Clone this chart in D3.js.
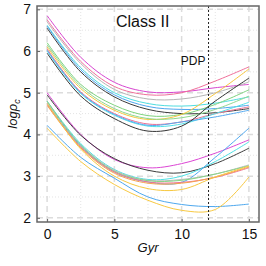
<!DOCTYPE html>
<html>
<head>
<meta charset="utf-8">
<script src="https://cdn.jsdelivr.net/npm/d3@7"></script>
<style>
  body { margin: 0; background: #fff; }
  text { font-family: "Liberation Sans", Arial, sans-serif; fill: #111; }
</style>
</head>
<body>
<script>
const gyr = [0, 2.5, 5, 7.5, 10, 12.5, 15];

const xTicks = [0, 5, 10, 15];
const yTicks = [2, 3, 4, 5, 6, 7];
const pdpAge = 12;

// top bundle
const magentaA = [6.85, 5.85, 5.25, 5.02, 5.02, 5.12, 5.2];
const pinkA    = [6.75, 5.75, 5.15, 4.95, 5.0, 5.28, 5.62];
const grayA    = [6.7, 5.7, 5.08, 4.85, 4.85, 5.0, 5.26];
const cyanA    = [6.62, 5.6, 5.0, 4.74, 4.68, 4.75, 4.9];
const blueA    = [6.6, 5.55, 4.95, 4.67, 4.6, 4.62, 4.7];
const blackA   = [6.55, 5.5, 4.9, 4.6, 4.5, 4.52, 4.62];
// second bundle
const greenB   = [6.2, 5.2, 4.7, 4.45, 4.48, 4.72, 5.07];
const yellowB  = [6.1, 5.1, 4.58, 4.36, 4.48, 4.98, 5.57];
const green2B  = [6.15, 5.15, 4.62, 4.38, 4.4, 4.6, 4.92];
const pinkB    = [6.05, 5.02, 4.5, 4.25, 4.3, 4.5, 4.66];
const cyanB    = [6.0, 4.98, 4.46, 4.2, 4.25, 4.5, 4.77];
const blueB    = [6.02, 5.0, 4.48, 4.22, 4.3, 4.42, 4.58];
const blackB   = [5.95, 4.92, 4.38, 4.08, 4.2, 4.8, 5.35];
// third bundle
const magentaC = [5.0, 4.0, 3.4, 3.2, 3.3, 3.55, 3.87];
const blackC   = [4.95, 3.98, 3.42, 3.14, 3.08, 3.3, 3.67];
const cyanD    = [4.8, 3.78, 3.16, 2.92, 3.0, 3.35, 3.82];
const blueD    = [4.75, 3.72, 3.1, 2.86, 2.85, 3.45, 4.15];
const grayD    = [4.78, 3.75, 3.14, 2.9, 2.92, 3.05, 3.27];
const greenD   = [4.8, 3.74, 3.12, 2.89, 2.9, 3.05, 3.25];
const pinkD    = [4.72, 3.7, 3.1, 2.86, 2.85, 2.97, 3.2];
const orangeD  = [4.7, 3.68, 3.07, 2.83, 2.83, 2.98, 3.22];
const yellowD  = [4.75, 3.65, 3.0, 2.7, 2.68, 2.98, 3.24];
// lowest pair
const blueE    = [4.22, 3.45, 2.95, 2.5, 2.32, 2.27, 2.33];
const yellowE  = [4.15, 3.35, 2.8, 2.42, 2.18, 2.2, 2.98];

const tracks = [
  [magentaA, "#d845d0"], [pinkA, "#f0709a"], [grayA, "#b5b5b5"], [cyanA, "#4fdde0"],
  [blueA, "#4ea6ee"], [blackA, "#3a3a3a"],
  [greenB, "#7ed37e"], [yellowB, "#f7c63e"], [green2B, "#8fd88f"], [pinkB, "#ef6f92"],
  [cyanB, "#52e0e6"], [blueB, "#55aaf0"], [blackB, "#333333"],
  [magentaC, "#dc46d4"], [blackC, "#3c3c3c"], [cyanD, "#50e0e4"], [blueD, "#4ea8f0"],
  [grayD, "#bbbbbb"], [greenD, "#86d686"], [pinkD, "#f07494"], [orangeD, "#f5a24e"],
  [yellowD, "#f7c840"], [blueE, "#4ea8ee"], [yellowE, "#f8c942"]
];

const W = 266, H = 266;
const m = { left: 37, right: 259, top: 6, bottom: 222 };

const svg = d3.select("body").append("svg")
  .attr("width", W)
  .attr("height", H);

const x = d3.scaleLinear().domain([-0.75, 15.75]).range([m.left, m.right]);
const y = d3.scaleLinear().domain([1.9, 7.08]).range([m.bottom, m.top]);

// minor grid (dotted)
const minorX = [2.5, 7.5, 12.5];
const minorY = [2.5, 3.5, 4.5, 5.5, 6.5];
svg.append("g").selectAll("line").data(minorX).enter().append("line")
  .attr("x1", d => x(d)).attr("x2", d => x(d))
  .attr("y1", m.top).attr("y2", m.bottom)
  .attr("stroke", "#e4e4e4").attr("stroke-dasharray", "1,2");
svg.append("g").selectAll("line").data(minorY).enter().append("line")
  .attr("y1", d => y(d)).attr("y2", d => y(d))
  .attr("x1", m.left).attr("x2", m.right)
  .attr("stroke", "#e4e4e4").attr("stroke-dasharray", "1,2");

// major grid (dashed)
svg.append("g").selectAll("line").data(xTicks).enter().append("line")
  .attr("x1", d => x(d)).attr("x2", d => x(d))
  .attr("y1", m.top).attr("y2", m.bottom)
  .attr("stroke", "#dcdcdc").attr("stroke-width", 1.5).attr("stroke-dasharray", "6,4");
svg.append("g").selectAll("line").data(yTicks).enter().append("line")
  .attr("y1", d => y(d)).attr("y2", d => y(d))
  .attr("x1", m.left).attr("x2", m.right)
  .attr("stroke", "#dcdcdc").attr("stroke-width", 1.5).attr("stroke-dasharray", "6,4");

// tracks
const line = d3.line()
  .x((d, i) => x(gyr[i]))
  .y(d => y(d))
  .curve(d3.curveCatmullRom.alpha(0.5));

svg.append("g").selectAll("path").data(tracks).enter().append("path")
  .attr("d", d => line(d[0]))
  .attr("fill", "none")
  .attr("stroke", d => d[1])
  .attr("stroke-width", 1);

// PDP marker
svg.append("line")
  .attr("x1", x(pdpAge)).attr("x2", x(pdpAge))
  .attr("y1", m.top).attr("y2", m.bottom)
  .attr("stroke", "#222").attr("stroke-dasharray", "2,2");
svg.append("text")
  .attr("x", x(pdpAge) - 3).attr("y", 65)
  .attr("text-anchor", "end")
  .style("font-size", "12px")
  .text("PDP");

// frame
svg.append("rect")
  .attr("x", m.left).attr("y", m.top)
  .attr("width", m.right - m.left).attr("height", m.bottom - m.top)
  .attr("fill", "none").attr("stroke", "#666").attr("stroke-width", 1.5);

// axes (inward ticks)
svg.append("g")
  .attr("transform", `translate(0,${m.bottom})`)
  .call(d3.axisBottom(x).tickValues(xTicks).tickFormat(d3.format("d"))
    .tickSizeInner(-3).tickSizeOuter(0).tickPadding(7))
  .call(g => g.select(".domain").remove())
  .call(g => g.selectAll("line").attr("stroke", "#666"))
  .call(g => g.selectAll("text").style("font-size", "14px")
    .style("font-family", "Liberation Sans, Arial, sans-serif").attr("fill", "#111"));

svg.append("g")
  .attr("transform", `translate(${m.left},0)`)
  .call(d3.axisLeft(y).tickValues(yTicks).tickFormat(d3.format("d"))
    .tickSizeInner(-3).tickSizeOuter(0).tickPadding(6))
  .call(g => g.select(".domain").remove())
  .call(g => g.selectAll("line").attr("stroke", "#666"))
  .call(g => g.selectAll("text").style("font-size", "14px")
    .style("font-family", "Liberation Sans, Arial, sans-serif").attr("fill", "#111"));

// title + axis labels
svg.append("text")
  .attr("x", 116).attr("y", 27)
  .style("font-size", "16px")
  .text("Class II");

svg.append("text")
  .attr("x", (m.left + m.right) / 2).attr("y", 252)
  .attr("text-anchor", "middle")
  .style("font-size", "13px").style("font-style", "italic")
  .text("Gyr");

const yl = svg.append("text")
  .attr("transform", `translate(17,${(m.top + m.bottom) / 2}) rotate(-90)`)
  .attr("text-anchor", "middle")
  .style("font-size", "13px").style("font-style", "italic");
yl.append("tspan").text("logρ");
yl.append("tspan").attr("dy", 3).style("font-size", "9px").text("c");
</script>
</body>
</html>
